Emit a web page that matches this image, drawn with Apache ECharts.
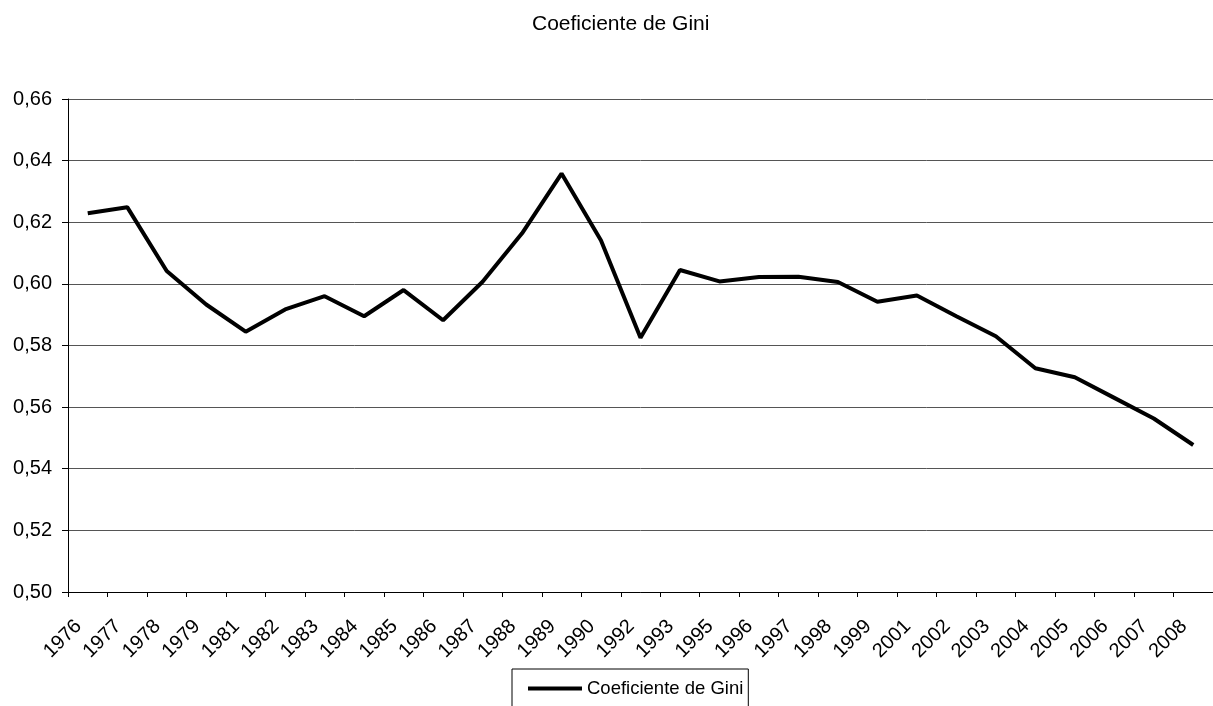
<!DOCTYPE html>
<html>
<head>
<meta charset="utf-8">
<title>Coeficiente de Gini</title>
<script src="https://cdn.jsdelivr.net/npm/echarts@6/dist/echarts.min.js"></script>
<style>
  html, body { margin: 0; padding: 0; background: #fff; }
  #giniChart { width: 1213px; height: 706px; }
</style>
</head>
<body>
<div id="giniChart"></div>
<script>
// anos (ha anos faltando, como no original)
var years = ["1976", "1977", "1978", "1979", "1981", "1982", "1983", "1984", "1985", "1986",
  "1987", "1988", "1989", "1990", "1992", "1993", "1995", "1996", "1997", "1998",
  "1999", "2001", "2002", "2003", "2004", "2005", "2006", "2007", "2008"];
var gini = [0.6229, 0.6249, 0.6042, 0.5933, 0.5845, 0.5917, 0.5960, 0.5895, 0.5980, 0.5882,
  0.6007, 0.6164, 0.6358, 0.6141, 0.5825, 0.6045, 0.6008, 0.6022, 0.6023, 0.6006,
  0.5942, 0.5962, 0.5895, 0.5830, 0.5726, 0.5697, 0.5630, 0.5563, 0.5477];
var yTicks = [0.50, 0.52, 0.54, 0.56, 0.58, 0.60, 0.62, 0.64, 0.66];

var chartDom = document.getElementById("giniChart");
var myChart = echarts.init(chartDom);
var font = "'Liberation Sans', Arial, sans-serif";
var option;

option = {
  animation: false,
  title: {
    text: "Coeficiente de Gini",
    left: 527,
    top: 9,
    textStyle: { fontFamily: font, fontSize: 21, fontWeight: "normal", color: "#000" }
  },
  legend: {
    data: ["Coeficiente de Gini"],
    left: 512,
    top: 669,
    padding: [10, 5, 20, 16],
    borderColor: "#000",
    borderWidth: 1,
    icon: "rect",
    itemWidth: 54,
    itemHeight: 4,
    itemGap: 5,
    textStyle: { fontFamily: font, fontSize: 18.5, color: "#000" }
  },
  grid: {
    left: 68,
    top: 99,
    width: 1160,
    height: 493
  },
  xAxis: {
    type: "category",
    data: years,
    boundaryGap: true,
    axisLine: { lineStyle: { color: "#000", width: 1 } },
    axisTick: { show: true, inside: false, length: 5, alignWithLabel: false, lineStyle: { color: "#000" } },
    axisLabel: {
      interval: 0,
      rotate: 45,
      margin: 22,
      padding: [0, 13, 0, 0],
      fontFamily: font,
      fontSize: 20,
      color: "#000"
    }
  },
  yAxis: {
    type: "value",
    min: yTicks[0],
    max: yTicks[yTicks.length - 1],
    interval: 0.02,
    axisLine: { show: true, lineStyle: { color: "#000", width: 1 } },
    axisTick: { show: true, length: 6, lineStyle: { color: "#000" } },
    splitLine: { show: true, lineStyle: { color: "#555", width: 1 } },
    axisLabel: {
      margin: 16,
      fontFamily: font,
      fontSize: 20,
      color: "#000",
      formatter: function (v) { return v.toFixed(2).replace(".", ","); }
    }
  },
  series: [
    {
      name: "Coeficiente de Gini",
      type: "line",
      data: gini,
      showSymbol: false,
      symbol: "none",
      lineStyle: { color: "#000", width: 4 },
      itemStyle: { color: "#000" }
    }
  ]
};

option && myChart.setOption(option);
</script>
</body>
</html>
